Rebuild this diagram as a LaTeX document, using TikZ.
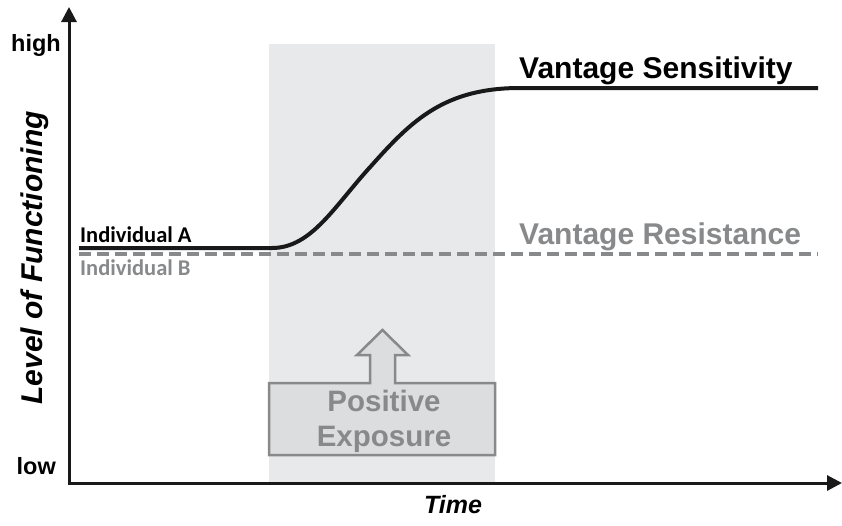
\documentclass[tikz,border=0pt]{standalone}
\usepackage{fontspec}
\setmainfont{Liberation Sans}
\newfontfamily\calfont{Carlito}
\usetikzlibrary{arrows.meta}
\definecolor{periodgrey}{HTML}{E8E9EA}
\definecolor{boxfill}{HTML}{DCDDDE}
\definecolor{greytxt}{HTML}{88898B}
\tikzset{
  axisline/.style={line width=3pt, black!90, -{Triangle[width=15pt,length=15pt]}},
  biglabel/.style={font=\fontsize{30}{32}\selectfont\bfseries, inner sep=0pt, anchor=base west},
  ticklabel/.style={font=\fontsize{23.5}{25}\selectfont\bfseries, inner sep=0pt, anchor=base east},
  indlabel/.style={font=\calfont\fontsize{22.5}{24}\selectfont\bfseries, inner sep=0pt, anchor=base west},
  exptext/.style={font=\fontsize{29.5}{31}\selectfont\bfseries, text=greytxt, inner sep=0pt, anchor=base},
}
\begin{document}
\begin{tikzpicture}[x=1pt,y=-1pt]
\useasboundingbox (0,0) rectangle (842,525);
% shaded exposure period
\fill[periodgrey] (269,44) rectangle (495,482);
% coordinates
\coordinate (origin) at (69,483);
\coordinate (ytop) at (69,7);
\coordinate (xend) at (842,483);
\coordinate (startA) at (79,248);
\coordinate (rise) at (272,248);
\coordinate (topS) at (520,88);
\coordinate (endS) at (818,88);
\coordinate (startB) at (79,254);
\coordinate (endB) at (818,254);
% dashed resistance line
\draw[greytxt, line width=3.5pt, dash pattern=on 12pt off 6pt] (startB) -- (endB);
% sensitivity curve
\draw[black!90, line width=4pt] (startA) -- (rise)
  .. controls (312,248) and (335,205) .. (372,165)
  .. controls (412,120) and (445,88) .. (topS) -- (endS);
% axes
\draw[axisline] (origin) -- (ytop);
\draw[axisline] ([xshift=-1.5pt]origin) -- (xend);
% exposure box with arrow
\draw[line width=2.5pt, draw=greytxt, fill=boxfill, line join=miter]
  (269,455) -- (269,383) -- (370,383) -- (370,355) -- (357,355) -- (382.5,330)
  -- (408,355) -- (395,355) -- (395,383) -- (495,383) -- (495,455) -- cycle;
\node[exptext] (pos) at (384,411) {Positive};
\node[exptext] (expo) at (384,446) {Exposure};
% labels
\node[ticklabel] (high) at (61,51) {high};
\node[ticklabel] (low) at (56,474) {low};
\node[font=\fontsize{30}{32}\selectfont\bfseries\itshape, rotate=90, inner sep=0pt] (ylab) at (35,258) {Level of Functioning};
\node[font=\fontsize{25}{27}\selectfont\bfseries\itshape, inner sep=0pt] (xlab) at (453,505) {Time};
\node[biglabel] (vs) at (519,78) {Vantage Sensitivity};
\node[biglabel, text=greytxt] (vr) at (519,244) {Vantage Resistance};
\node[indlabel] (ia) at (80,242) {Individual A};
\node[indlabel, text=greytxt] (ib) at (80,275) {Individual B};
\end{tikzpicture}
\end{document}
